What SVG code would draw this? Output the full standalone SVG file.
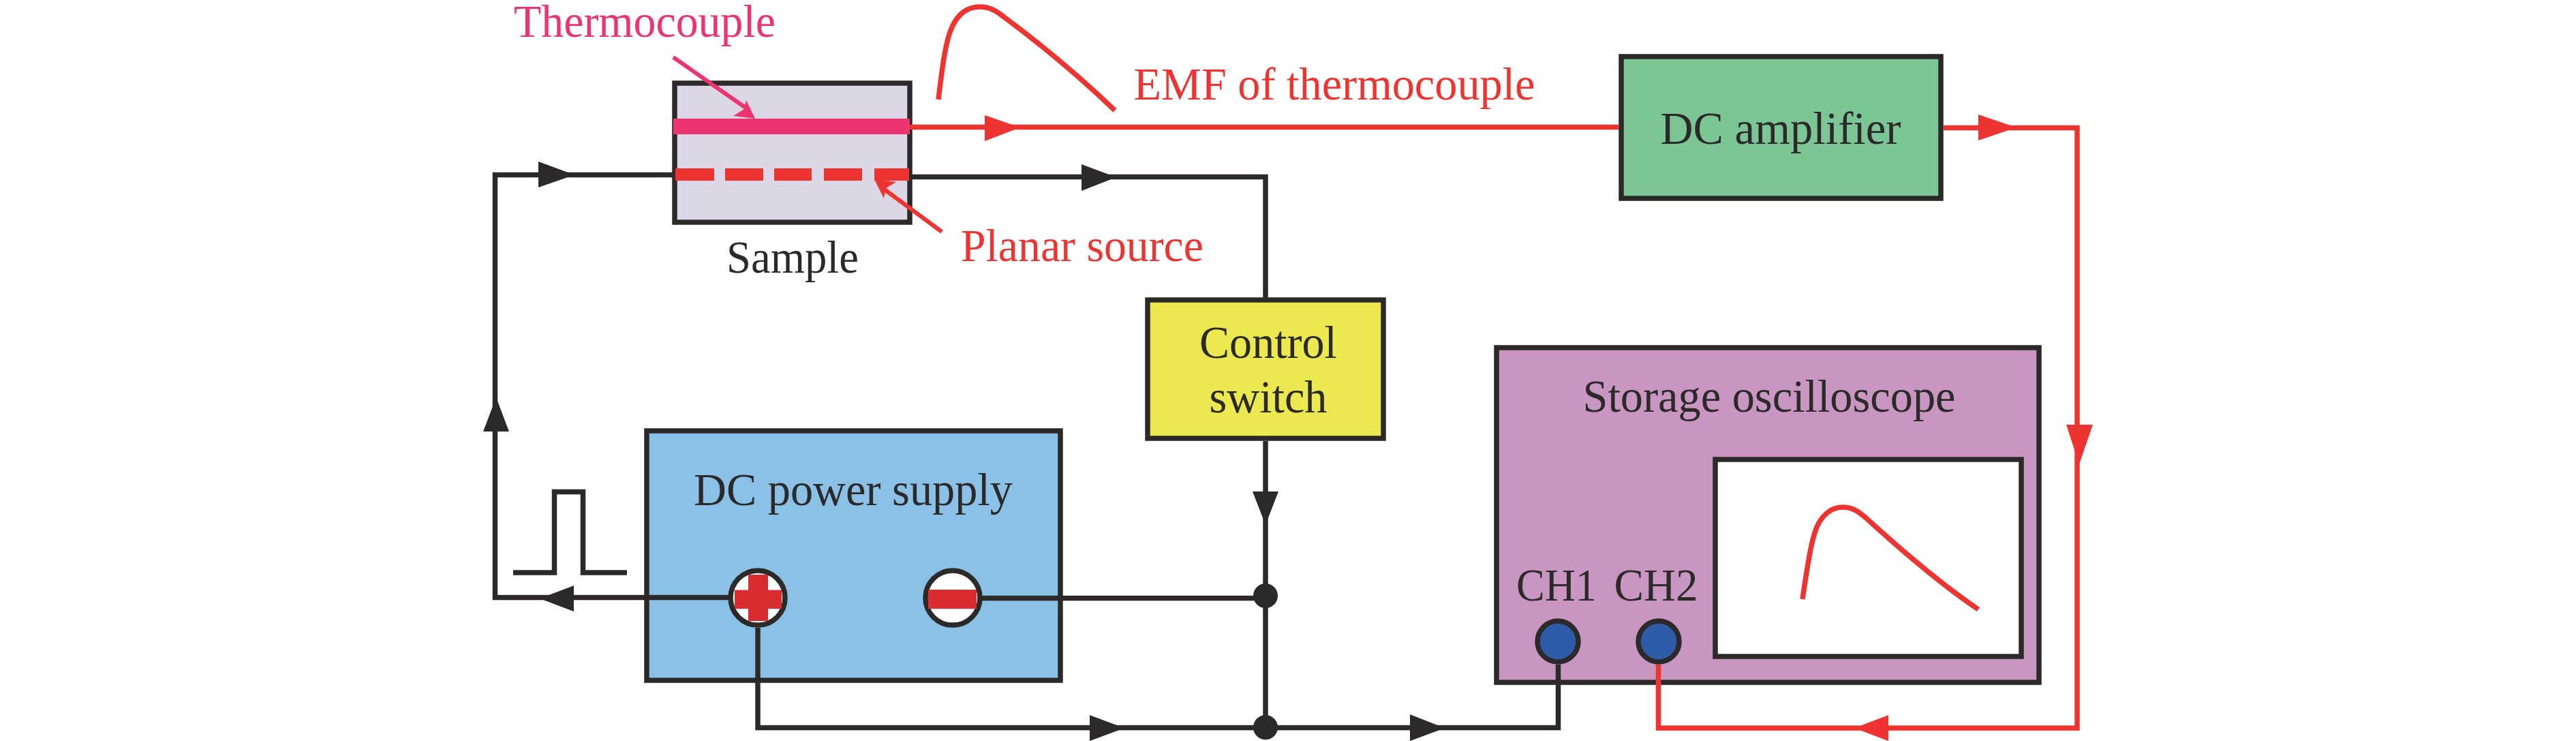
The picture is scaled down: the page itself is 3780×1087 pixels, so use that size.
<svg xmlns="http://www.w3.org/2000/svg" width="3780" height="1087" viewBox="0 0 3780 1087">
<style>
text{font-family:"Liberation Serif","Times New Roman",serif;font-size:68px;fill:#2b2a29;text-anchor:middle}
.box{stroke:#2b2a29;stroke-width:7.5}
.k{fill:none;stroke:#2b2a29;stroke-width:7.5}
.r{fill:none;stroke:#ee3431;stroke-width:7.5}
.kf{fill:#2b2a29}
.rf{fill:#ee3431}
.red{fill:#ee3431}
.pink{fill:#ec3570}
</style>
<rect width="3780" height="1087" fill="#fff"/>
<g id="sample">
<rect class="box" x="990" y="122" width="345" height="204" fill="#dcd7e6"/>
<rect x="988" y="174" width="347" height="23" fill="#ec3570"/>
<g fill="#ee3431"><rect x="991" y="247" width="57" height="18"/><rect x="1064" y="247" width="56" height="18"/><rect x="1136" y="247" width="55" height="18"/><rect x="1209" y="247" width="56" height="18"/><rect x="1283" y="247" width="51" height="18"/></g>
<text x="1163" y="400" textLength="194" lengthAdjust="spacingAndGlyphs">Sample</text>
</g>
<g id="thermocouple-label">
<text class="pink" x="946" y="54" textLength="384" lengthAdjust="spacingAndGlyphs">Thermocouple</text>
<path d="M988 84L1094 158" fill="none" stroke="#ec3570" stroke-width="6"/>
<path d="M1108 174L1095 147L1092 160L1076 170Z" fill="#ec3570"/>
</g>
<g id="planar-label">
<text class="red" x="1588" y="383" textLength="356" lengthAdjust="spacingAndGlyphs">Planar source</text>
<path d="M1382 340L1298 278" fill="none" stroke="#ee3431" stroke-width="6"/>
<path d="M1283 263L1315 267L1300 276L1297 291Z" fill="#ee3431"/>
</g>
<g id="dc-amplifier">
<rect class="box" x="2379" y="83" width="469" height="208" fill="#7bc694"/>
<text x="2613" y="211" textLength="353" lengthAdjust="spacingAndGlyphs">DC amplifier</text>
</g>
<g id="control-switch">
<rect class="box" x="1684" y="440" width="346" height="203" fill="#ece950"/>
<text x="1861" y="525" textLength="202" lengthAdjust="spacingAndGlyphs">Control</text>
<text x="1861" y="605" textLength="173" lengthAdjust="spacingAndGlyphs">switch</text>
</g>
<g id="dc-power-supply">
<rect class="box" x="949" y="632" width="607" height="366" fill="#8bc1e7"/>
<text x="1252" y="741" textLength="468" lengthAdjust="spacingAndGlyphs">DC power supply</text>
</g>
<g id="storage-oscilloscope">
<rect class="box" x="2196" y="510" width="796" height="491" fill="#c995c1"/>
<rect class="box" x="2517" y="674" width="449" height="289" fill="#fff"/>
<path class="r" d="M2645 879C2652 830 2657 800 2662 785C2670 755 2688 744 2704 744C2720 744 2730 752 2745 766C2810 825 2860 865 2903 894"/>
<text x="2596" y="604" textLength="547" lengthAdjust="spacingAndGlyphs">Storage oscilloscope</text>
<text x="2284" y="881" textLength="118" lengthAdjust="spacingAndGlyphs">CH1</text>
<text x="2430" y="881" textLength="123" lengthAdjust="spacingAndGlyphs">CH2</text>
</g>
<g id="connectors">
<path class="r" d="M1335 186.500H2375"/>
<path class="rf" d="M1445 169L1497 187L1445 207Z"/>
<path class="r" d="M2852 187.500H3048V1068H2433.500V975"/>
<path class="rf" d="M2903 168L2959 187L2903 206Z"/>
<path class="rf" d="M3032 623H3071L3051 681Z"/>
<path class="rf" d="M2771 1049V1087L2721 1068Z"/>
<path class="k" d="M989 256.500H726.500V876.500H1075"/>
<path class="kf" d="M790 237L843 256.500L790 275Z"/>
<path class="kf" d="M709 633H747L728 583Z"/>
<path class="kf" d="M842 859V897L792 878Z"/>
<path class="k" d="M1335 259.500H1857V437"/>
<path class="kf" d="M1587 241L1638 260L1587 280Z"/>
<path class="k" d="M1857 647V1067"/>
<path class="kf" d="M1838 721H1876L1857 770Z"/>
<path class="k" d="M1441 877.500H1857"/>
<circle class="kf" cx="1857" cy="874" r="18"/>
<circle class="kf" cx="1857" cy="1067" r="18"/>
<path class="k" d="M1112 921V1067.500H2286.500V975"/>
<path class="kf" d="M1599 1049V1087L1650 1068Z"/>
<path class="kf" d="M2069 1048V1087L2120 1068Z"/>
<path class="k" d="M753 840H813.500V721.500H855.500V840H920"/>
</g>
<g id="terminal-positive">
<circle class="box" cx="1112" cy="877" r="40" fill="#fff"/>
<path d="M1098 843H1127V865.500H1147V893H1127V911H1098V893H1078V865.500H1098Z" fill="#d92d2f"/>
</g>
<g id="terminal-negative">
<circle class="box" cx="1398" cy="877" r="40" fill="#fff"/>
<rect x="1362" y="865" width="71" height="28" fill="#d92d2f"/>
</g>
<g id="ch1"><circle class="box" cx="2286" cy="941" r="30" fill="#2e5ca8"/></g>
<g id="ch2"><circle class="box" cx="2434" cy="941" r="30" fill="#2e5ca8"/></g>
<g id="emf-label">
<path class="r" d="M1377 146C1383 95 1388 60 1396 42C1406 18 1422 10 1438 10C1452 10 1462 16 1472 24C1530 67 1590 118 1636 162"/>
<text class="red" x="1958" y="146" textLength="589" lengthAdjust="spacingAndGlyphs">EMF of thermocouple</text>
</g>
</svg>
